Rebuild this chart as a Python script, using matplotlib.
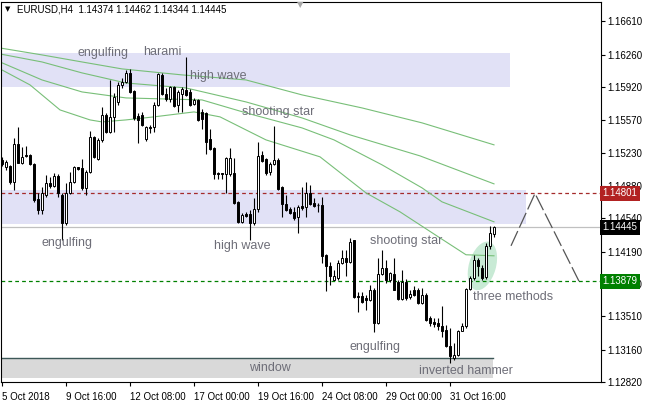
import matplotlib
matplotlib.use('Agg')
import matplotlib.pyplot as plt
import matplotlib.transforms as mtransforms
from matplotlib.patches import Rectangle, Ellipse

plt.rcParams['font.family'] = ['Liberation Sans', 'DejaVu Sans']

symbol = 'EURUSD,H4'

# H4 candles, bar 0 = 5 Oct 2018 00:00
opens = [1.15154, 1.15077, 1.15091, 1.14926, 1.15322, 1.15126, 1.15207, 1.15207, 1.15112, 1.14745,
         1.14629, 1.14787, 1.14909, 1.14881, 1.14986, 1.14787, 1.14489, 1.14804, 1.14926, 1.15077,
         1.15067, 1.14857, 1.15031, 1.15392, 1.15161, 1.15364, 1.15627, 1.15451, 1.15600, 1.15760,
         1.15942, 1.15976, 1.16064, 1.15882, 1.15616, 1.15627, 1.15371, 1.15497, 1.15497, 1.15732,
         1.16047, 1.15847, 1.15791, 1.15917, 1.15732, 1.15847, 1.15889, 1.15871, 1.15742, 1.15784,
         1.15661, 1.15644, 1.15371, 1.15277, 1.15014, 1.15014, 1.15007, 1.15007, 1.15014, 1.14716,
         1.14506, 1.14587, 1.14587, 1.14489, 1.14636, 1.15207, 1.15161, 1.15031, 1.15112, 1.15154,
         1.14867, 1.14692, 1.14636, 1.14611, 1.14552, 1.14671, 1.14657, 1.14811, 1.14699, 1.14678,
         1.14682, 1.14157, 1.14041, 1.13894, 1.13912, 1.14069, 1.14122, 1.14086, 1.14307, 1.13719,
         1.13726, 1.13702, 1.13684, 1.13789, 1.13439, 1.13957, 1.14017, 1.13894, 1.13957, 1.13876,
         1.13691, 1.13876, 1.13712, 1.13789, 1.13789, 1.13649, 1.13737, 1.13492, 1.13446, 1.13439,
         1.13411, 1.13369, 1.13194, 1.13072, 1.13107, 1.13359, 1.13411, 1.13796, 1.13912, 1.14104,
         1.14017, 1.13923, 1.14244, 1.14374]
highs = [1.15189, 1.15154, 1.15102, 1.15382, 1.15504, 1.15294, 1.15301, 1.15214, 1.15119, 1.14804,
         1.14874, 1.14997, 1.14979, 1.15014, 1.15004, 1.14804, 1.14909, 1.15031, 1.15091, 1.15084,
         1.15161, 1.15049, 1.15462, 1.15406, 1.15385, 1.15714, 1.15644, 1.15994, 1.15854, 1.15976,
         1.16012, 1.16099, 1.16106, 1.15889, 1.15644, 1.15661, 1.15511, 1.15522, 1.15766, 1.16064,
         1.16064, 1.15907, 1.15931, 1.15931, 1.15889, 1.15917, 1.16232, 1.15896, 1.15802, 1.15791,
         1.15686, 1.15661, 1.15476, 1.15287, 1.15031, 1.15021, 1.15189, 1.15277, 1.15172, 1.14727,
         1.14594, 1.14611, 1.14629, 1.14752, 1.15346, 1.15252, 1.15172, 1.15136, 1.15511, 1.15172,
         1.14881, 1.14787, 1.14664, 1.14664, 1.14682, 1.14867, 1.14926, 1.14892, 1.14752, 1.14699,
         1.14769, 1.14167, 1.14086, 1.13999, 1.14104, 1.14209, 1.14209, 1.14332, 1.14314, 1.13761,
         1.13761, 1.13737, 1.13842, 1.13807, 1.14122, 1.14209, 1.14104, 1.13981, 1.14122, 1.13894,
         1.13999, 1.13901, 1.13789, 1.13824, 1.13807, 1.13807, 1.13754, 1.13509, 1.13492, 1.13492,
         1.13614, 1.13422, 1.13387, 1.13229, 1.13369, 1.13439, 1.13807, 1.13929, 1.14157, 1.14122,
         1.14052, 1.14279, 1.14454, 1.14462]
lows = [1.15091, 1.15049, 1.14902, 1.14839, 1.15119, 1.15112, 1.15189, 1.15105, 1.14716, 1.14587,
        1.14587, 1.14769, 1.14857, 1.14867, 1.14769, 1.14314, 1.14472, 1.14797, 1.14909, 1.15049,
        1.14839, 1.14787, 1.15014, 1.15172, 1.15154, 1.15346, 1.15441, 1.15434, 1.15451, 1.15732,
        1.15907, 1.15966, 1.15854, 1.15574, 1.15336, 1.15511, 1.15357, 1.15434, 1.15451, 1.15721,
        1.15837, 1.15777, 1.15766, 1.15707, 1.15661, 1.15661, 1.15826, 1.15721, 1.15732, 1.15567,
        1.15476, 1.15217, 1.15259, 1.14951, 1.14951, 1.14951, 1.14811, 1.14986, 1.14692, 1.14489,
        1.14496, 1.14559, 1.14314, 1.14472, 1.14611, 1.15136, 1.14997, 1.14997, 1.15102, 1.14839,
        1.14552, 1.14622, 1.14587, 1.14524, 1.14384, 1.14629, 1.14552, 1.14682, 1.14664, 1.14611,
        1.14069, 1.13771, 1.13842, 1.13887, 1.13894, 1.14062, 1.13929, 1.14069, 1.13702, 1.13551,
        1.13649, 1.13579, 1.13666, 1.13341, 1.13432, 1.13946, 1.13859, 1.13866, 1.13782, 1.13677,
        1.13684, 1.13684, 1.13691, 1.13719, 1.13642, 1.13642, 1.13456, 1.13404, 1.13397, 1.13369,
        1.13296, 1.13187, 1.13019, 1.13054, 1.13096, 1.13351, 1.13387, 1.13789, 1.13894, 1.13936,
        1.13894, 1.13901, 1.14216, 1.14344]
closes = [1.15112, 1.15136, 1.14926, 1.15322, 1.15126, 1.15189, 1.15196, 1.15112, 1.14734, 1.14629,
          1.14804, 1.14909, 1.14881, 1.14986, 1.14804, 1.14489, 1.14804, 1.14926, 1.15084, 1.15063,
          1.14857, 1.15031, 1.15392, 1.15189, 1.15364, 1.15627, 1.15451, 1.15600, 1.15819, 1.15942,
          1.15976, 1.16064, 1.15871, 1.15592, 1.15574, 1.15522, 1.15504, 1.15487, 1.15732, 1.16057,
          1.15847, 1.15791, 1.15917, 1.15721, 1.15871, 1.15896, 1.15837, 1.15732, 1.15784, 1.15574,
          1.15581, 1.15346, 1.15266, 1.15007, 1.15004, 1.15004, 1.15172, 1.15172, 1.14706, 1.14506,
          1.14577, 1.14566, 1.14489, 1.14636, 1.15196, 1.15147, 1.15021, 1.15112, 1.15154, 1.14846,
          1.14692, 1.14629, 1.14594, 1.14542, 1.14664, 1.14647, 1.14811, 1.14692, 1.14674, 1.14674,
          1.14146, 1.14034, 1.13929, 1.13936, 1.14069, 1.14122, 1.14086, 1.14286, 1.13712, 1.13712,
          1.13656, 1.13684, 1.13789, 1.13439, 1.13957, 1.14017, 1.13894, 1.13964, 1.13789, 1.13691,
          1.13876, 1.13702, 1.13747, 1.13737, 1.13649, 1.13737, 1.13474, 1.13439, 1.13432, 1.13404,
          1.13351, 1.13194, 1.13089, 1.13107, 1.13359, 1.13411, 1.13796, 1.13912, 1.14097, 1.14034,
          1.13912, 1.14244, 1.14384, 1.14445]

date_ticks = [0, 16, 32, 48, 64, 80, 96, 112]
date_labels = ['5 Oct 2018', '9 Oct 16:00', '12 Oct 08:00', '17 Oct 00:00',
               '19 Oct 16:00', '24 Oct 08:00', '29 Oct 00:00', '31 Oct 16:00']
price_ticks = [1.16610, 1.16260, 1.15920, 1.15570, 1.15230, 1.14880,
               1.14540, 1.14190, 1.13850, 1.13510, 1.13160, 1.12820]

resistance = 1.14801
support = 1.13879

# rectangles: bar from, bar to, price low, price high
zones = [(-0.25, 127, 1.15915, 1.16278),
         (-0.25, 131, 1.14482, 1.14839)]
window_zone = (-0.25, 122.75, 1.12865, 1.13075)

# moving averages (bar, price)
ma1_x = [-0.5, 10, 20, 30, 45, 61, 75, 90, 105, 123]
ma1_y = [1.16330, 1.16257, 1.16183, 1.16110, 1.16047, 1.15994, 1.15837, 1.15700, 1.15543, 1.15312]
ma2_x = [-0.5, 10, 20, 31, 46, 61, 75, 87, 104.5, 123]
ma2_y = [1.16267, 1.16183, 1.16068, 1.15962, 1.15910, 1.15763, 1.15595, 1.15417, 1.15196, 1.14902]
ma3_x = [-0.5, 10, 20, 31, 50, 61, 75, 83, 95, 105, 110, 123]
ma3_y = [1.16183, 1.15994, 1.15868, 1.15805, 1.15784, 1.15648, 1.15490, 1.15364, 1.15102, 1.14860,
         1.14713, 1.14503]
ma4_x = [-0.5, 7, 14.5, 22, 25, 31, 38, 48, 54.5, 61, 66, 79.5, 91, 99.5, 104.5, 109.5, 116, 123]
ma4_y = [1.16110, 1.15942, 1.15679, 1.15574, 1.15553, 1.15574, 1.15606, 1.15658, 1.15606, 1.15469,
         1.15364, 1.15186, 1.14807, 1.14608, 1.14471, 1.14334, 1.14157, 1.14146]

patterns = [('engulfing', 25.25, 1.16278), ('harami', 40, 1.16288),
            ('high wave', 54, 1.16036), ('shooting star', 69, 1.15658),
            ('engulfing', 16.25, 1.14283), ('high wave', 60, 1.14251),
            ('shooting star', 101, 1.14304), ('three methods', 127.75, 1.13716),
            ('engulfing', 93.25, 1.13190), ('inverted hammer', 116, 1.12939),
            ('window', 67, 1.12970)]

proj_x = [127.25, 133.25, 144.25]
proj_y = [1.14251, 1.14801, 1.13879]

fig = plt.figure(figsize=(6.45, 4.07), dpi=100)
ax = fig.add_axes([1/645, 25/407, 600/645, 380/407])
ax.set_xlim(-0.25, 149.75)
ax.set_ylim(1.12823, 1.16813)

band_col = '#e1e1f6'
for x0, x1, y0, y1 in zones:
    ax.add_patch(Rectangle((x0, y0), x1 - x0, y1 - y0, fc=band_col, ec='none', zorder=0.5))
wx0, wx1, wy0, wy1 = window_zone
ax.add_patch(Rectangle((wx0, wy0), wx1 - wx0, wy1 - wy0, fc='#d9d9d9', ec='none', zorder=0.5))
ax.plot([wx0, wx1], [wy1, wy1], color='#3d5858', lw=1, zorder=0.6)

# three methods highlight
tr = fig.dpi_scale_trans + mtransforms.ScaledTranslation(120.1, 1.1404, ax.transData)
ax.add_patch(Ellipse((0, 0), 0.27, 0.5, angle=-16, fc='#c8ead5', ec='none', transform=tr, zorder=1))

ax.axhline(resistance, color='#a52a2a', lw=0.9, dashes=(3, 2.5), zorder=1.5)
ax.axhline(closes[-1], color='#c0c0c0', lw=0.9, zorder=1.5)
ax.axhline(support, color='#008000', lw=0.9, dashes=(3, 2.5), zorder=1.5)

for mx, my in [(ma1_x, ma1_y), (ma2_x, ma2_y), (ma3_x, ma3_y), (ma4_x, ma4_y)]:
    ax.plot(mx, my, color='#78bf78', lw=0.8, zorder=2)

ax.plot(proj_x, proj_y, color='#555555', lw=0.9, dashes=(13, 3), zorder=2)

# candles
idx = list(range(len(opens)))
ax.vlines(idx, lows, highs, color='black', lw=0.8, zorder=3)
for i in idx:
    o, c = opens[i], closes[i]
    if abs(c - o) < 0.00004:
        ax.hlines(o, i - 0.35, i + 0.35, color='black', lw=0.9, zorder=4)
    else:
        ax.add_patch(Rectangle((i - 0.3, min(o, c)), 0.6, abs(c - o),
                               fc='white' if c > o else 'black', ec='black', lw=0.7, zorder=4))

for txt, x, y in patterns:
    ax.text(x, y, txt, fontsize=9, color='#6e6e78', ha='center', va='center', zorder=5)

ax.yaxis.tick_right()
ax.set_yticks(price_ticks)
ax.set_yticklabels([f'{p:.5f}' for p in price_ticks])
ax.set_xticks(date_ticks)
ax.set_xticklabels(date_labels, ha='left')
ax.tick_params(axis='y', direction='out', length=3, width=0.8, labelsize=7, pad=1.5, colors='black')
ax.tick_params(axis='x', direction='out', length=3, width=0.8, labelsize=7, pad=4)
for s in ax.spines.values():
    s.set_linewidth(0.8)
    s.set_color('black')

blend = mtransforms.blended_transform_factory(ax.transAxes, ax.transData)
for val, col in [(resistance, '#b22222'), (closes[-1], 'black'), (support, '#008000')]:
    ax.text(1.003, val, f'{val:.5f}', transform=blend, fontsize=7, color='white',
            ha='left', va='center', zorder=10, clip_on=False,
            bbox=dict(boxstyle='square,pad=0.25', fc=col, ec='none'))

header = f'{symbol}  {opens[-1]:.5f} {highs[-1]:.5f} {lows[-1]:.5f} {closes[-1]:.5f}'
fig.text(5/645, 1 - 9/407, '\u25bc', family='DejaVu Sans', fontsize=5, va='center')
fig.text(17/645, 1 - 9/407, header, fontsize=7, va='center')
fig.text(300/645, 1 - 5/407, '\u25bc', family='DejaVu Sans', fontsize=6, color='#a8a8a8',
         ha='center', va='center')

fig.savefig('out.png', dpi=100)
